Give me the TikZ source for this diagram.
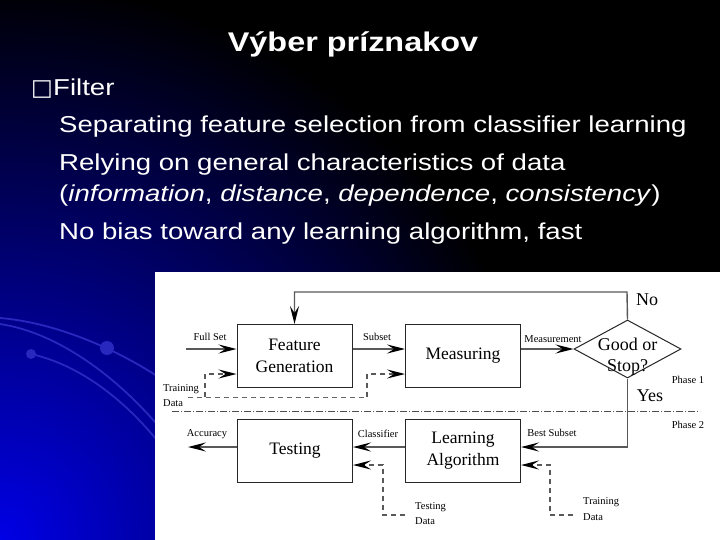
\documentclass[tikz,border=0pt]{standalone}
\usepackage{fontspec}
\setmainfont{Liberation Sans}[FakeStretch=1.2]
\newfontfamily\diagfont{Liberation Serif}
\newfontfamily\symfont{DejaVu Sans}
\usetikzlibrary{shapes.geometric,arrows.meta,positioning}

\definecolor{arcblue}{RGB}{40,40,190}
\tikzset{
  blk/.style={draw=black!85, line width=1pt, minimum width=115pt, minimum height=63pt,
    inner sep=0pt, align=center, font=\diagfont\fontsize{17.5}{22}\selectfont},
  lbl/.style={inner sep=0pt, font=\diagfont\fontsize{10.5}{12}\selectfont},
  big/.style={inner sep=0pt, align=center, font=\diagfont\fontsize{18}{21}\selectfont},
  arr/.style={draw=black!65, line width=1.4pt,
    -{Stealth[length=18pt,width=9pt,inset=7pt,color=black]}},
  darr/.style={arr, dash pattern=on 5pt off 4pt},
  dline/.style={draw=black!60, line width=1pt, dash pattern=on 5pt off 4pt},
  phase/.style={draw=black!70, line width=1pt, dash pattern=on 7pt off 2pt on 1pt off 2pt},
  body/.style={text=white, anchor=base west, inner sep=0pt, font=\fontsize{23}{28}\selectfont}
}

\begin{document}
\begin{tikzpicture}[x=1pt,y=1pt,yscale=-1]
    \useasboundingbox (0,0) rectangle (720,540);
    % background
    \fill[black] (0,0) rectangle (720,540);
    \begin{scope}
      \clip (0,0) rectangle (720,540);
      \shade[inner color=blue!90!black, outer color=black] (0,540) circle (560);
    \end{scope}
    % blue arcs
    \draw[arcblue, line width=1.8pt] (0,318) .. controls (50,322) and (110,345) .. (160,378);
    \draw[arcblue, line width=1.8pt] (0,324) .. controls (60,333) and (120,380) .. (160,428);
    \draw[arcblue, line width=1.8pt] (31,354) .. controls (80,365) and (125,400) .. (160,444);
    \fill[arcblue] (107,348) circle (7);
    \fill[arcblue] (31,354) circle (5);

    % Text Node
    \node[text=white, anchor=base, inner sep=0pt, font=\bfseries\fontsize{27}{30}\selectfont] (title) at (353,52) {Výber príznakov};
    % Text Node
    \node[body] (flt) at (53,96) {Filter};
    \node[body, anchor=base east] (box) at (flt.base west) {\symfont □};
    % Text Node
    \node[body] (l1) at (59,133) {Separating feature selection from classifier learning};
    \node[body] (l2) at (59,171) {Relying on general characteristics of data};
    \node[body] (l3) at (59,202) {(\textit{information}, \textit{distance}, \textit{dependence}, \textit{consistency})};
    \node[body] (l4) at (59,240) {No bias toward any learning algorithm, fast};

    % diagram panel
    \fill[white] (155,272) rectangle (720,540);

    % Blocks
    \node[blk] (fg) at (294.5,356) {Feature\\Generation};
    \node[blk] (ms) at (463,356) {Measuring};
    \node[diamond, draw=black!85, line width=1pt, minimum width=107pt, minimum height=58pt, inner sep=0pt] (gs) at (627.5,349) {};
    \node[big] (gstxt) at (627.5,357) {Good or\\Stop?};
    \node[blk] (ts) at (295,451) {Testing};
    \node[blk] (la) at (463,451) {Learning\\Algorithm};

    % free ends
    \coordinate (fullin) at (186,349);
    \coordinate (accout) at (188,447);
    \coordinate (fb) at (627,292);
    \coordinate (bsy) at (0,447);
    \coordinate (tdy) at (0,465);
    \coordinate (try1) at (0,374);
    \coordinate (tr1) at (188,397);
    \coordinate (tr1a) at (205,397);
    \coordinate (tr1b) at (367,397);
    \coordinate (tdin) at (405,515);
    \coordinate (tdk) at (383,465);
    \coordinate (tr2in) at (573,515);
    \coordinate (tr2k) at (550,465);
    \coordinate (ph1) at (172,411);
    \coordinate (ph2) at (700,411);

    % Phase 1
    \draw[arr] (fullin) -- (fullin -| fg.west);
    \draw[arr] (fullin -| fg.east) -- (fullin -| ms.west);
    \draw[arr] (ms.east |- gs.west) -- (gs.west);
    \draw[arr] (gs.north) -- (fb) -| (fg.north);
    \draw[dline] (tr1) -- (tr1b);
    \draw[darr] (tr1a) |- (fg.west |- try1);
    \draw[darr] (tr1b) |- (ms.west |- try1);
    % Phase 2
    \draw[arr] (gs.south) |- (la.east |- bsy);
    \draw[arr] (la.west |- bsy) -- (ts.east |- bsy);
    \draw[arr] (ts.west |- bsy) -- (accout);
    \draw[darr] (tdin) -| (tdk) -- (ts.east |- tdy);
    \draw[darr] (tr2in) -| (tr2k) -- (la.east |- tdy);
    % phase separator
    \draw[phase] (ph1) -- (ph2);

    % Text Node
    \node[lbl] at (210,337) {Full Set};
    \node[lbl] at (377,337) {Subset};
    \node[lbl] at (553,339) {Measurement};
    \node[lbl, anchor=west] at (163,389) {Training};
    \node[lbl, anchor=west] at (163,403) {Data};
    \node[big] at (647,300) {No};
    \node[big] at (650,396) {Yes};
    \node[lbl] at (688,380) {Phase 1};
    \node[lbl] at (688,425) {Phase 2};
    \node[lbl] at (207,434) {Accuracy};
    \node[lbl] at (378,434) {Classifier};
    \node[lbl] at (552,433) {Best Subset};
    \node[lbl, anchor=west] at (415,507) {Testing};
    \node[lbl, anchor=west] at (415,521) {Data};
    \node[lbl, anchor=west] at (583,502) {Training};
    \node[lbl, anchor=west] at (583,517) {Data};
\end{tikzpicture}
\end{document}
